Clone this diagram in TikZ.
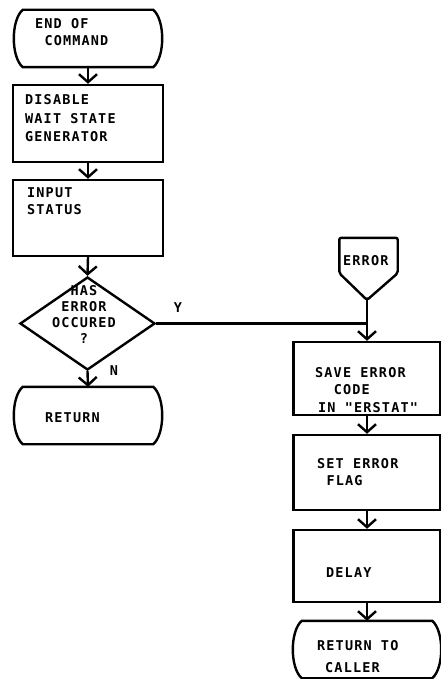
\documentclass[tikz,border=0pt]{standalone}
\usepackage{fontspec}
\newfontfamily\flowfont{DejaVu Sans Mono Bold}[LetterSpace=8.5]
\usetikzlibrary{arrows.meta,shapes.geometric,calc}
\tikzset{
  shapeline/.style={line width=2.4pt},
  box/.style={draw, shapeline, rectangle, minimum width=147pt, inner sep=0pt},
  term/.style={rectangle, minimum width=150pt, minimum height=57pt, inner sep=0pt},
  decision/.style={draw, shapeline, diamond, minimum width=135pt, minimum height=93pt, inner sep=0pt},
  lines/.style={font=\flowfont\fontsize{13.5}{#1}\selectfont},
  lines/.default=17.5,
  txt/.style={lines, align=left, inner sep=0pt, anchor=base west},
  flow/.style={line width=2.4pt, -{Straight Barb[length=8pt,width=18pt,line width=2.4pt]}},
  conn/.style={line width=2.4pt},
}
\newcommand{\termshape}[1]{%
  \draw[shapeline] ([xshift=10pt]#1.north west) -- ([xshift=-10pt]#1.north east)
    .. controls ([xshift=2pt,yshift=-10pt]#1.north east) and ([xshift=2pt,yshift=10pt]#1.south east) .. ([xshift=-10pt]#1.south east)
    -- ([xshift=10pt]#1.south west)
    .. controls ([xshift=-2pt,yshift=10pt]#1.south west) and ([xshift=-2pt,yshift=-10pt]#1.north west) .. cycle;}
\begin{document}
\begin{tikzpicture}[x=1pt,y=-1pt]
\useasboundingbox[fill=white] (0,0) rectangle (441,679);
% left column
\node[term] (t1) at (88,38.5) {};
\termshape{t1}
\node[txt] (t1txt) at (35,46) {END OF\\\hspace*{9.3pt}COMMAND};
\node[box, minimum width=150pt, minimum height=77pt] (b1) at (88,123.5) {};
\node[txt, lines=18.5] (b1txt) at (25,142) {DISABLE\\WAIT STATE\\GENERATOR};
\node[box, minimum width=150pt, minimum height=76pt] (b2) at (88,218) {};
\node[txt, lines=16.5] (b2txt) at (27,214) {INPUT\\STATUS};
\node[decision] (dec) at (87.5,323.5) {};
\node[txt, lines=16, align=center, anchor=base] (dectxt) at (84,343) {HAS\\ERROR\\OCCURED\\?};
\node[term] (t2) at (88,415.5) {};
\termshape{t2}
\node[txt] (t2txt) at (45,422) {RETURN};
\node[txt, anchor=base] (ylab) at (178,312) {Y};
\node[txt, anchor=base] (nlab) at (114,375) {N};
% right column
\node[rectangle, minimum width=58pt, minimum height=35pt, inner sep=0pt] (err) at (368.5,255.5) {};
\coordinate (errtip) at (367,300);
\draw[shapeline, rounded corners=2pt] (err.south west) -- (err.north west) -- (err.north east) -- (err.south east) -- (errtip) -- cycle;
\node[txt] (errtxt) at (343,265) {ERROR};
\node[box, minimum height=73pt] (b3) at (367,378.5) {};
\node[txt] (b3txt) at (315,412) {SAVE ERROR\\\hspace*{18.6pt}CODE\\\hspace*{3pt}IN "ERSTAT"};
\node[box, minimum height=75pt] (b4) at (367,472.5) {};
\node[txt, lines=17] (b4txt) at (317,485) {SET ERROR\\\hspace*{9.3pt}FLAG};
\node[box, minimum height=72pt] (b5) at (367,566) {};
\node[txt] (b5txt) at (326,577) {DELAY};
\node[term] (t3) at (367,649.5) {};
\termshape{t3}
\node[txt, lines=22] (t3txt) at (317,672) {RETURN TO\\\hspace*{8pt}CALLER};
% connectors
\draw[flow] (t1.south) -- (b1.north);
\draw[flow] (b1.south) -- (b2.north);
\draw[flow] (b2.south) -- (dec.north);
\draw[flow] (dec.south) -- (t2.north);
\coordinate (j) at (dec.east -| b3.north);
\draw[conn] (dec.east) -- (j);
\draw[flow] (errtip) -- (b3.north);
\draw[flow] (b3.south) -- (b4.north);
\draw[flow] (b4.south) -- (b5.north);
\draw[flow] (b5.south) -- (t3.north);
\end{tikzpicture}
\end{document}
